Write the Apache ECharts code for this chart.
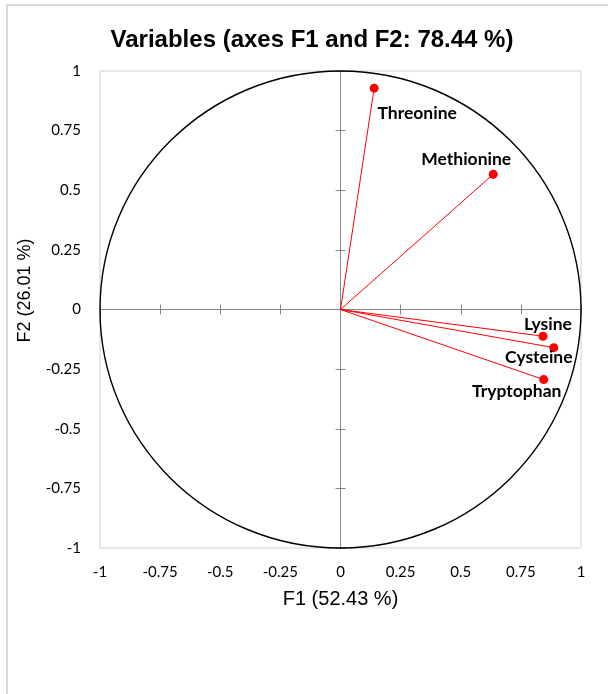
<!DOCTYPE html>
<html>
<head>
<meta charset="utf-8">
<script src="https://cdn.jsdelivr.net/npm/echarts@6/dist/echarts.min.js"></script>
<style>
  html, body { margin: 0; padding: 0; background: #fff; }
  #chart { width: 608px; height: 694px; }
</style>
</head>
<body>
<div id="chart"></div>
<script>
// correlation circle data
const variables = ['Threonine', 'Methionine', 'Lysine', 'Cysteine', 'Tryptophan'];
const f1 = [0.140, 0.635, 0.842, 0.887, 0.845];
const f2 = [0.928, 0.567, -0.112, -0.160, -0.294];
const tickValues = [-1, -0.75, -0.5, -0.25, 0, 0.25, 0.5, 0.75, 1];
const axisNames = ['F1 (52.43 %)', 'F2 (26.01 %)'];
const chartTitle = 'Variables (axes F1 and F2: 78.44 %)';

// where each label sits relative to its dot, in px
const labelOffsets = [[43, 25], [-27, -15], [5, -12], [-15, 10], [-27, 12]];

let myChart = echarts.init(document.getElementById('chart'), null, { renderer: 'canvas' });

const axisMin = tickValues[0];
const axisMax = tickValues[tickValues.length - 1];
const axisStep = tickValues[1] - tickValues[0];
const gray = '#868686';

function valueAxis(extra) {
  return Object.assign({
    type: 'value',
    min: axisMin,
    max: axisMax,
    interval: axisStep,
    splitLine: { show: false },
    axisLabel: { show: false },
    axisTick: { show: false },
    axisLine: { show: false, onZero: false },
  }, extra);
}

// zero line with ticks crossing it (one axis for each half of the tick)
function zeroAxis(pos, inside) {
  return valueAxis({
    position: pos,
    axisLine: { show: true, onZero: true, onZeroAxisIndex: 0, lineStyle: { color: gray, width: 1 } },
    axisTick: { show: true, inside: inside, length: 5, lineStyle: { color: gray, width: 1 } },
  });
}

const tickLabelStyle = {
  show: true,
  color: '#000',
  fontFamily: 'Lato',
  fontSize: 15,
  formatter: (v) => String(v),
};

const points = variables.map((name, i) => ({
  name: name,
  value: [f1[i], f2[i]],
  label: { offset: labelOffsets[i] },
}));

var option = {
  backgroundColor: '#fff',
  animation: false,
  title: {
    text: chartTitle,
    left: 312,
    top: 28,
    padding: 0,
    textAlign: 'center',
    textStyle: { fontFamily: 'Liberation Sans', fontWeight: 'bold', fontSize: 24, color: '#000' },
  },
  graphic: [
    {
      type: 'polyline',
      silent: true,
      shape: { points: [[7, 694], [7, 5], [608, 5]] },
      style: { stroke: '#d9d9d9', lineWidth: 2, fill: null },
    },
  ],
  grid: {
    left: 100,
    top: 71,
    right: 27,
    bottom: 146,
    containLabel: false,
    outerBoundsMode: 'none',
    show: true,
    borderColor: '#d0d0d0',
    borderWidth: 1,
    backgroundColor: 'transparent',
  },
  xAxis: [
    valueAxis({
      position: 'bottom',
      name: axisNames[0],
      nameLocation: 'middle',
      nameGap: 41,
      nameTextStyle: { fontFamily: 'Liberation Sans', fontSize: 20, color: '#000' },
      axisLabel: Object.assign({ margin: 17 }, tickLabelStyle),
    }),
    zeroAxis('bottom', true),
    zeroAxis('bottom', false),
  ],
  yAxis: [
    valueAxis({
      position: 'left',
      name: axisNames[1],
      nameLocation: 'middle',
      nameGap: 66,
      nameTextStyle: { fontFamily: 'Liberation Sans', fontSize: 18, color: '#000', padding: [0, 0, 0, 38] },
      axisLabel: Object.assign({ margin: 19 }, tickLabelStyle),
    }),
    zeroAxis('left', true),
    zeroAxis('left', false),
  ],
  series: [
    {
      // unit correlation circle
      type: 'custom',
      silent: true,
      xAxisIndex: 0,
      yAxisIndex: 0,
      data: [[0, 0]],
      z: 1,
      renderItem: function (params, api) {
        let c = api.coord([api.value(0), api.value(1)]);
        let r = api.size([1, 1]);
        return {
          type: 'ellipse',
          shape: { cx: c[0], cy: c[1], rx: r[0], ry: r[1] },
          style: { fill: null, stroke: '#000', lineWidth: 1.4 },
        };
      },
    },
    {
      // vectors from the origin
      type: 'custom',
      silent: true,
      xAxisIndex: 0,
      yAxisIndex: 0,
      data: variables.map((n, i) => [f1[i], f2[i]]),
      z: 2,
      renderItem: function (params, api) {
        let o = api.coord([0, 0]);
        let p = api.coord([api.value(0), api.value(1)]);
        return {
          type: 'line',
          shape: { x1: o[0], y1: o[1], x2: p[0], y2: p[1] },
          style: { stroke: '#ff0000', lineWidth: 1 },
        };
      },
    },
    {
      type: 'scatter',
      xAxisIndex: 0,
      yAxisIndex: 0,
      symbolSize: 9,
      z: 3,
      itemStyle: { color: '#ff0000', opacity: 1 },
      label: {
        show: true,
        position: 'inside',
        formatter: (p) => p.name,
        color: '#000',
        textBorderWidth: 0,
        fontFamily: 'Lato',
        fontWeight: 'bold',
        fontSize: 17.5,
      },
      emphasis: { disabled: true },
      data: points,
    },
  ],
};

myChart.setOption(option);
</script>
</body>
</html>
